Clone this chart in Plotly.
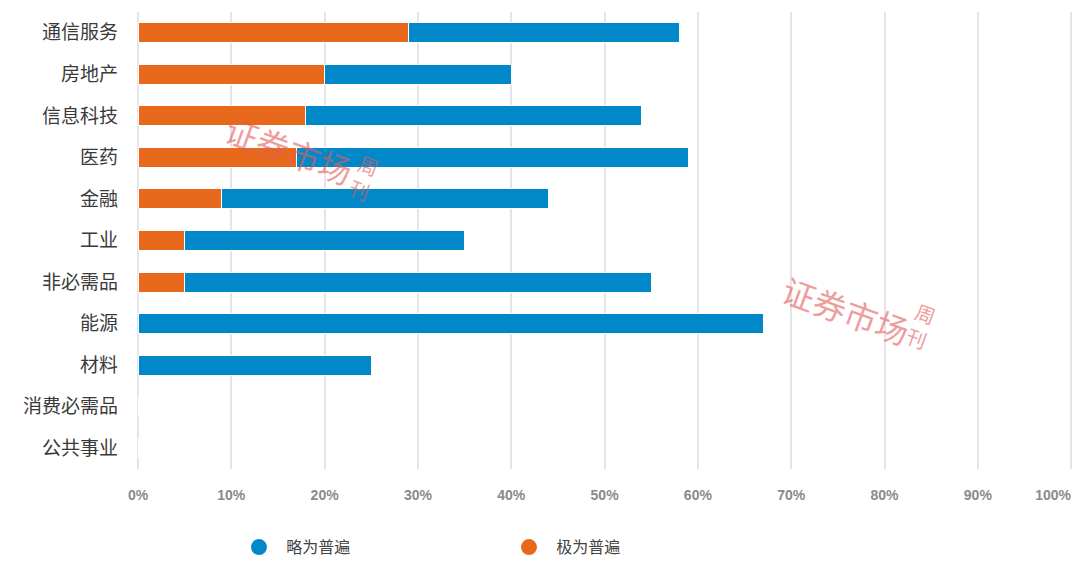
import plotly.graph_objects as go

categories = ["通信服务", "房地产", "信息科技", "医药", "金融", "工业", "非必需品", "能源", "材料", "消费必需品", "公共事业"]
extremely_common = [29, 20, 18, 17, 9, 5, 5, 0, 0, 0, 0]      # 极为普遍
slightly_common = [29, 20, 36, 42, 35, 30, 50, 67, 25, 0, 0]   # 略为普遍
tick_vals = [0, 10, 20, 30, 40, 50, 60, 70, 80, 90]
tick_text = [f"{v}%" for v in tick_vals]
last_tick_val = [100]
last_tick_text = ["100%"]

ORANGE = "#E8691C"
BLUE = "#0088C9"
WM = "rgba(228,90,90,0.6)"
GRID = "#E4E4EA"

fig = go.Figure()
fig.add_trace(go.Bar(y=categories, x=extremely_common, orientation="h", name="极为普遍",
                     marker=dict(color=ORANGE, line=dict(color="white", width=1)), showlegend=False))
fig.add_trace(go.Bar(y=categories, x=slightly_common, orientation="h", name="略为普遍",
                     marker=dict(color=BLUE, line=dict(color="white", width=1)), showlegend=False))
# legend entries with circle symbols
fig.add_trace(go.Scatter(x=[None], y=[None], mode="markers", name="\u00a0\u00a0略为普遍",
                         marker=dict(symbol="circle", size=16, color=BLUE)))
fig.add_trace(go.Scatter(x=[None], y=[None], mode="markers", name="\u00a0\u00a0极为普遍",
                         marker=dict(symbol="circle", size=16, color=ORANGE)))

tickfont = dict(size=14, color="#8A8A8A", family="Liberation Sans", weight="bold")

fig.update_layout(
    width=1080, height=571,
    margin=dict(l=130, r=15, t=4, b=110),
    paper_bgcolor="white", plot_bgcolor="white",
    barmode="stack", bargap=0.52,
    font=dict(family="Noto Sans CJK SC", color="#333"),
    legend=dict(orientation="h", x=0.108, y=-0.171, xanchor="left", yanchor="middle",
                traceorder="normal",
                entrywidth=225, entrywidthmode="pixels",
                font=dict(size=16, color="#444", family="Noto Sans CJK SC"), itemsizing="trace"),
    xaxis=dict(range=[0, 100.2], tickvals=tick_vals, ticktext=tick_text, automargin=False,
               showgrid=True, gridcolor=GRID, gridwidth=2,
               zeroline=True, zerolinecolor=GRID, zerolinewidth=2, showline=False,
               ticks="", ticklabelstandoff=16, tickfont=tickfont),
    xaxis2=dict(range=[0, 100.2], overlaying="x", side="bottom", anchor="y",
                tickvals=last_tick_val, ticktext=last_tick_text, automargin=False,
                showgrid=True, gridcolor=GRID, gridwidth=2, zeroline=False, showline=False,
                ticks="", ticklabelstandoff=16, ticklabelshift=-18, tickfont=tickfont),
    yaxis=dict(categoryorder="array", categoryarray=categories, autorange="reversed",
               showgrid=False, zeroline=False, showline=False, ticks="", ticklabelstandoff=19,
               automargin=False,
               tickfont=dict(size=19, color="#3A3A3A", family="Noto Sans CJK SC")),
)
# dummy trace on xaxis2 so it is drawn
fig.add_trace(go.Scatter(x=[None], y=[None], xaxis="x2", showlegend=False, hoverinfo="skip"))

# watermarks
for (xp, yp, xs, ys) in [(0.162, 0.698, 0.242, 0.638), (0.757, 0.348, 0.837, 0.313)]:
    fig.add_annotation(x=xp, y=yp, xref="paper", yref="paper", text="证券市场",
                       showarrow=False, textangle=20, xanchor="center", yanchor="middle",
                       font=dict(size=33, color=WM, family="Noto Sans CJK SC"))
    fig.add_annotation(x=xs, y=ys, xref="paper", yref="paper", text="周<br>刊",
                       showarrow=False, textangle=20, xanchor="center", yanchor="middle",
                       font=dict(size=20, color=WM, family="Noto Sans CJK SC"))

fig.write_html("out.html")
